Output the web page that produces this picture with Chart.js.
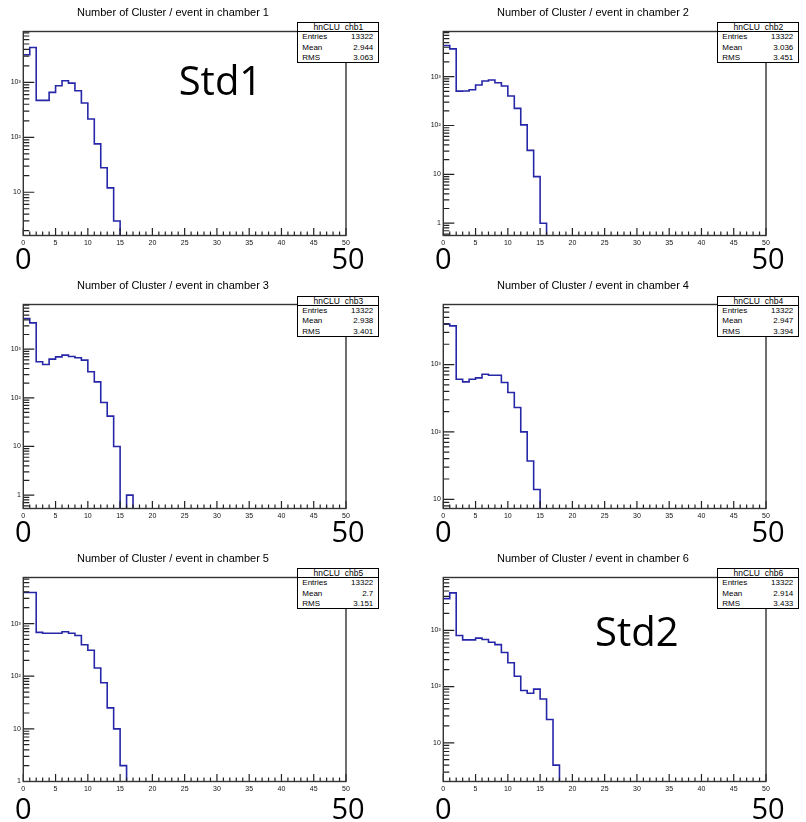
<!DOCTYPE html>
<html>
<head>
<meta charset="utf-8">
<script src="https://cdn.jsdelivr.net/npm/chart.js@4.4.1/dist/chart.umd.min.js"></script>
<style>
  html, body { margin: 0; padding: 0; background: #fff; }
  #wrap { position: relative; width: 806px; height: 822px; overflow: hidden; background: #fff; }
  .panel { position: absolute; width: 386px; height: 276px; }
  .panel canvas { position: absolute; left: 0; top: 0; }
  .stats { position: absolute; box-sizing: border-box; border: 1px solid #000; background: #fff;
           font-family: "Liberation Sans", Arial, sans-serif; color: #000; }
  .stats .sh { height: 8px; line-height: 8px; font-size: 8.5px; text-align: center; border-bottom: 1px solid #000; }
  .stats .sr { height: 10.3px; line-height: 10.3px; font-size: 8px; display: flex; justify-content: space-between; padding: 0 5px 0 4px; }
  .big { position: absolute; width: 70px; text-align: center; font-family: "Open Sans", sans-serif;
         font-size: 29px; line-height: 1; color: #000; white-space: nowrap; }
  .std { position: absolute; font-family: "Open Sans", sans-serif; font-size: 40px; line-height: 1; color: #000; white-space: nowrap; }
</style>
</head>
<body>
<div id="wrap"></div>
<script>
// ---------------- data ----------------
const chamberTitles = [
  'Number of Cluster / event in chamber 1',
  'Number of Cluster / event in chamber 2',
  'Number of Cluster / event in chamber 3',
  'Number of Cluster / event in chamber 4',
  'Number of Cluster / event in chamber 5',
  'Number of Cluster / event in chamber 6'
];
// bin lower edges 0..49 (bin width 1)
const binEdges = [0,1,2,3,4,5,6,7,8,9,10,11,12,13,14,15,16,17,18,19,20,21,22,23,24,
                  25,26,27,28,29,30,31,32,33,34,35,36,37,38,39,40,41,42,43,44,45,46,47,48,49];
const chamber1 = [3190,4330,471,471,658,869,1072,972,705,421,215,76,28,12,3,0,0,0,0,0,0,0,0,0,0,
                  0,0,0,0,0,0,0,0,0,0,0,0,0,0,0,0,0,0,0,0,0,0,0,0,0];
const chamber2 = [4340,3700,507,510,541,675,815,855,753,643,401,224,103,31,9,1,0,0,0,0,0,0,0,0,0,
                  0,0,0,0,0,0,0,0,0,0,0,0,0,0,0,0,0,0,0,0,0,0,0,0,0];
const chamber3 = [4270,3475,550,484,623,695,753,707,664,594,342,213,80,42,10,0,1,0,0,0,0,0,0,0,0,
                  0,0,0,0,0,0,0,0,0,0,0,0,0,0,0,0,0,0,0,0,0,0,0,0,0];
const chamber4 = [3975,3750,605,553,605,634,718,695,695,541,384,230,100,37,14,0,0,0,0,0,0,0,0,0,0,
                  0,0,0,0,0,0,0,0,0,0,0,0,0,0,0,0,0,0,0,0,0,0,0,0,0];
const chamber5 = [3880,3900,681,653,653,653,701,653,592,397,312,143,75,25,10,2,0,0,0,0,0,0,0,0,0,
                  0,0,0,0,0,0,0,0,0,0,0,0,0,0,0,0,0,0,0,0,0,0,0,0,0];
const chamber6 = [3660,4640,811,676,676,726,686,614,556,404,265,152,85,76,90,60,26,4,0,0,0,0,0,0,0,
                  0,0,0,0,0,0,0,0,0,0,0,0,0,0,0,0,0,0,0,0,0,0,0,0,0];
const chamberSeries = [chamber1, chamber2, chamber3, chamber4, chamber5, chamber6];

// y axis ranges (log) read from each pad
const yMins = [1.63, 0.56, 0.53, 7.3, 1.0, 2.05];
const yMaxs = [8450, 8410, 8280, 7780, 7500, 8690];

// tick labels
const xTickValues = [0,5,10,15,20,25,30,35,40,45,50];
const xTickLabels = ['0','5','10','15','20','25','30','35','40','45','50'];
const yTickValues = [1, 10, 100, 1000];
const yTickLabels = ['1', '10', '10\u00B2', '10\u00B3'];

// stats boxes
const statNames = ['hnCLU_chb1','hnCLU_chb2','hnCLU_chb3','hnCLU_chb4','hnCLU_chb5','hnCLU_chb6'];
const statEntries = ['13322','13322','13322','13322','13322','13322'];
const statMeans = ['2.944','3.036','2.938','2.947','2.7','2.914'];
const statRms = ['3.063','3.451','3.401','3.394','3.151','3.433'];

// big annotation labels
const axisEndLabels = ['0', '50'];
const notes = { 0: 'Std1', 5: 'Std2' };

// ---------------- layout ----------------
const colLefts = [0, 420];
const rowTops = [0, 273, 546];
const W = 386, H = 250;
const frameLeft = 23.3, frameRight = 346, frameTop = 31.5, frameBottom = 235.5;

const rootFrame = {
  id: 'rootFrame',
  afterDatasetsDraw(chart) {
    const { ctx, chartArea: a, scales: { x, y } } = chart;
    ctx.save();
    ctx.strokeStyle = '#222';
    ctx.lineWidth = 1.2;
    ctx.beginPath();
    for (let v = 0; v <= 50; v++) {
      const px = x.getPixelForValue(v);
      const len = v % 5 === 0 ? 7.5 : 4;
      ctx.moveTo(px, a.bottom); ctx.lineTo(px, a.bottom - len);
    }
    const lmin = Math.floor(Math.log10(y.min)), lmax = Math.ceil(Math.log10(y.max));
    for (let d = lmin; d <= lmax; d++) {
      for (let m = 1; m <= 9; m++) {
        const v = m * Math.pow(10, d);
        if (v < y.min || v > y.max) continue;
        const py = y.getPixelForValue(v);
        const len = m === 1 ? 11 : 6;
        ctx.moveTo(a.left, py); ctx.lineTo(a.left + len, py);
      }
    }
    ctx.stroke();
    ctx.lineWidth = 1.4;
    ctx.strokeStyle = '#333';
    ctx.strokeRect(a.left, a.top, a.right - a.left, a.bottom - a.top);
    ctx.restore();
  }
};

const wrap = document.getElementById('wrap');

chamberSeries.forEach((series, i) => {
  const col = i % 2, row = Math.floor(i / 2);
  const panel = document.createElement('div');
  panel.className = 'panel';
  panel.style.left = colLefts[col] + 'px';
  panel.style.top = rowTops[row] + 'px';
  wrap.appendChild(panel);

  const canvas = document.createElement('canvas');
  canvas.width = W; canvas.height = H;
  canvas.style.width = W + 'px'; canvas.style.height = H + 'px';
  panel.appendChild(canvas);

  const yMin = yMins[i], yMax = yMaxs[i];
  const floorVal = yMin / 20;
  const pts = binEdges.map((e, k) => ({ x: e, y: series[k] > 0 ? series[k] : floorVal }));
  pts.push({ x: 50, y: pts[pts.length - 1].y });

  new Chart(canvas, {
    type: 'line',
    data: {
      datasets: [{
        data: pts,
        stepped: true,
        borderColor: '#2626a8',
        borderWidth: 1.6,
        pointRadius: 0,
        fill: false,
        tension: 0
      }]
    },
    options: {
      responsive: false,
      animation: false,
      devicePixelRatio: 1,
      events: [],
      layout: { padding: { left: 0, right: W - frameRight, top: 0, bottom: 0 } },
      plugins: {
        legend: { display: false },
        tooltip: { enabled: false },
        title: {
          display: true,
          text: chamberTitles[i],
          color: '#000',
          font: { family: 'Liberation Sans', size: 11, weight: 'normal' },
          padding: { top: 6.4, bottom: frameTop - 6.4 - 13.2 }
        }
      },
      scales: {
        x: {
          type: 'linear', min: 0, max: 50,
          grid: { display: false, drawTicks: false },
          border: { display: false },
          afterBuildTicks: s => { s.ticks = xTickValues.map(v => ({ value: v })); },
          afterFit: s => { s.height = H - frameBottom; },
          ticks: {
            autoSkip: false, maxRotation: 0, minRotation: 0, padding: 3,
            color: '#111',
            font: { family: 'Liberation Sans', size: 7 },
            callback: v => xTickLabels[xTickValues.indexOf(v)]
          }
        },
        y: {
          type: 'logarithmic', min: yMin, max: yMax,
          grid: { display: false, drawTicks: false },
          border: { display: false },
          afterBuildTicks: s => {
            s.ticks = yTickValues.filter(v => v >= yMin * 0.999 && v <= yMax).map(v => ({ value: v }));
          },
          afterFit: s => { s.width = frameLeft; },
          ticks: {
            autoSkip: false, padding: 2.5,
            color: '#111',
            font: { family: 'Liberation Sans', size: 7 },
            callback: v => yTickLabels[yTickValues.indexOf(v)]
          }
        }
      }
    },
    plugins: [rootFrame]
  });

  // stats box
  const st = document.createElement('div');
  st.className = 'stats';
  st.style.left = '297.3px';
  st.style.top = (row === 1 ? 23.2 : 22.4) + 'px';
  st.style.width = '82px';
  st.style.height = '41px';
  st.innerHTML =
    '<div class="sh">' + statNames[i] + '</div>' +
    '<div class="sr"><span>Entries</span><span>' + statEntries[i] + '</span></div>' +
    '<div class="sr"><span>Mean</span><span>' + statMeans[i] + '</span></div>' +
    '<div class="sr"><span>RMS</span><span>' + statRms[i] + '</span></div>';
  panel.appendChild(st);

  // big axis end labels
  const bigTop = row === 2 ? 247 : 242.5;
  [frameLeft, frameRight + 2].forEach((xc, k) => {
    const b = document.createElement('div');
    b.className = 'big';
    b.textContent = axisEndLabels[k];
    b.style.left = (xc - 35) + 'px';
    b.style.top = bigTop + 'px';
    panel.appendChild(b);
  });

  if (notes[i]) {
    const n = document.createElement('div');
    n.className = 'std';
    n.textContent = notes[i];
    n.style.left = (i === 0 ? 178.7 : 175) + 'px';
    n.style.top = (i === 0 ? 60.2 : 65.2) + 'px';
    panel.appendChild(n);
  }
});
</script>
</body>
</html>
